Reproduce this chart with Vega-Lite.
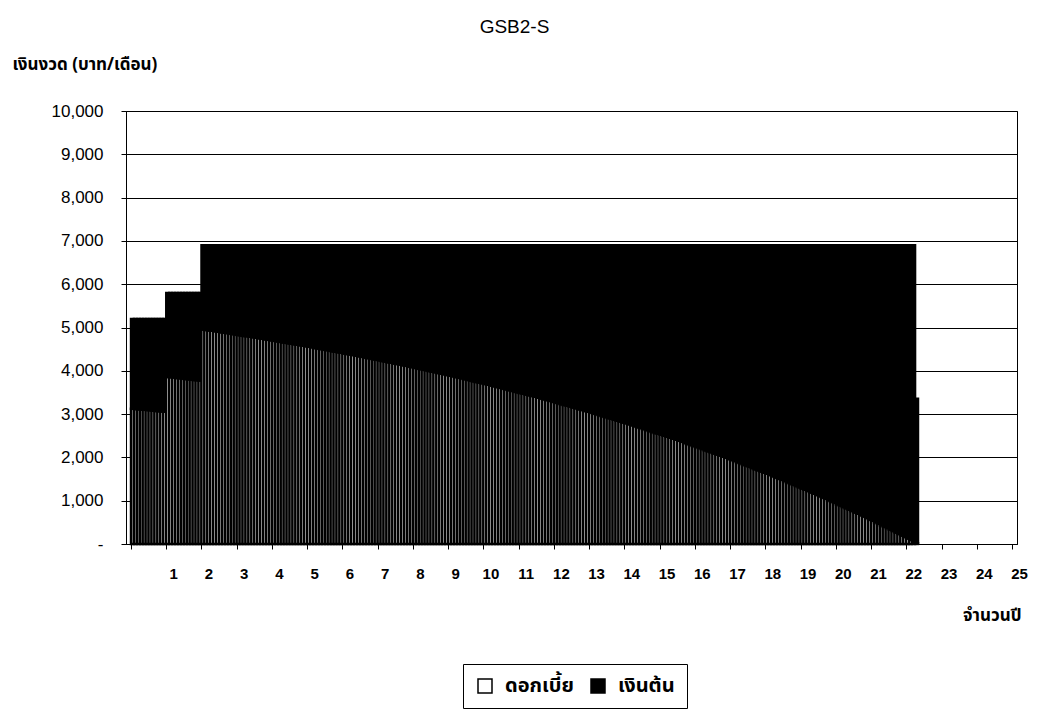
{
  "$schema": "https://vega.github.io/schema/vega-lite/v6.json",
  "autosize": "none",
  "padding": {"left": 126, "top": 111, "right": 27, "bottom": 166},
  "width": 891,
  "height": 433,
  "background": "white",
  "view": {"stroke": "black", "strokeWidth": 1},
  "title": {
    "text": "GSB2-S",
    "anchor": "middle",
    "frame": "group",
    "dx": -57,
    "dy": 23,
    "offset": 26,
    "baseline": "alphabetic",
    "font": "Liberation Sans",
    "fontSize": 19,
    "fontWeight": "normal",
    "color": "black"
  },
  "config": {
    "axis": {
      "labelColor": "black",
      "tickColor": "black",
      "domainColor": "black",
      "gridColor": "black",
      "titleColor": "black"
    },
    "legend": {"labelColor": "black"}
  },
  "data": {
    "values": [
      {"m":1,"i":3125,"p":2075},{"m":2,"i":3118,"p":2082},{"m":3,"i":3112,"p":2088},{"m":4,"i":3105,"p":2095},
      {"m":5,"i":3099,"p":2101},{"m":6,"i":3092,"p":2108},{"m":7,"i":3086,"p":2114},{"m":8,"i":3079,"p":2121},
      {"m":9,"i":3072,"p":2128},{"m":10,"i":3066,"p":2134},{"m":11,"i":3059,"p":2141},{"m":12,"i":3052,"p":2148},
      {"m":13,"i":3858,"p":1942},{"m":14,"i":3850,"p":1950},{"m":15,"i":3843,"p":1957},{"m":16,"i":3835,"p":1965},
      {"m":17,"i":3827,"p":1973},{"m":18,"i":3819,"p":1981},{"m":19,"i":3811,"p":1989},{"m":20,"i":3804,"p":1996},
      {"m":21,"i":3796,"p":2004},{"m":22,"i":3788,"p":2012},{"m":23,"i":3780,"p":2020},{"m":24,"i":3772,"p":2028},
      {"m":25,"i":4952,"p":1948},{"m":26,"i":4942,"p":1958},{"m":27,"i":4932,"p":1968},{"m":28,"i":4922,"p":1978},
      {"m":29,"i":4911,"p":1989},{"m":30,"i":4901,"p":1999},{"m":31,"i":4891,"p":2009},{"m":32,"i":4880,"p":2020},
      {"m":33,"i":4870,"p":2030},{"m":34,"i":4859,"p":2041},{"m":35,"i":4848,"p":2052},{"m":36,"i":4838,"p":2062},
      {"m":37,"i":4827,"p":2073},{"m":38,"i":4816,"p":2084},{"m":39,"i":4805,"p":2095},{"m":40,"i":4794,"p":2106},
      {"m":41,"i":4784,"p":2116},{"m":42,"i":4772,"p":2128},{"m":43,"i":4761,"p":2139},{"m":44,"i":4750,"p":2150},
      {"m":45,"i":4739,"p":2161},{"m":46,"i":4728,"p":2172},{"m":47,"i":4717,"p":2183},{"m":48,"i":4705,"p":2195},
      {"m":49,"i":4694,"p":2206},{"m":50,"i":4682,"p":2218},{"m":51,"i":4671,"p":2229},{"m":52,"i":4659,"p":2241},
      {"m":53,"i":4647,"p":2253},{"m":54,"i":4636,"p":2264},{"m":55,"i":4624,"p":2276},{"m":56,"i":4612,"p":2288},
      {"m":57,"i":4600,"p":2300},{"m":58,"i":4588,"p":2312},{"m":59,"i":4576,"p":2324},{"m":60,"i":4564,"p":2336},
      {"m":61,"i":4552,"p":2348},{"m":62,"i":4540,"p":2360},{"m":63,"i":4527,"p":2373},{"m":64,"i":4515,"p":2385},
      {"m":65,"i":4503,"p":2397},{"m":66,"i":4490,"p":2410},{"m":67,"i":4478,"p":2422},{"m":68,"i":4465,"p":2435},
      {"m":69,"i":4452,"p":2448},{"m":70,"i":4439,"p":2461},{"m":71,"i":4427,"p":2473},{"m":72,"i":4414,"p":2486},
      {"m":73,"i":4401,"p":2499},{"m":74,"i":4388,"p":2512},{"m":75,"i":4375,"p":2525},{"m":76,"i":4362,"p":2538},
      {"m":77,"i":4348,"p":2552},{"m":78,"i":4335,"p":2565},{"m":79,"i":4322,"p":2578},{"m":80,"i":4308,"p":2592},
      {"m":81,"i":4295,"p":2605},{"m":82,"i":4281,"p":2619},{"m":83,"i":4268,"p":2632},{"m":84,"i":4254,"p":2646},
      {"m":85,"i":4240,"p":2660},{"m":86,"i":4226,"p":2674},{"m":87,"i":4212,"p":2688},{"m":88,"i":4198,"p":2702},
      {"m":89,"i":4184,"p":2716},{"m":90,"i":4170,"p":2730},{"m":91,"i":4156,"p":2744},{"m":92,"i":4142,"p":2758},
      {"m":93,"i":4127,"p":2773},{"m":94,"i":4113,"p":2787},{"m":95,"i":4098,"p":2802},{"m":96,"i":4084,"p":2816},
      {"m":97,"i":4069,"p":2831},{"m":98,"i":4054,"p":2846},{"m":99,"i":4039,"p":2861},{"m":100,"i":4024,"p":2876},
      {"m":101,"i":4010,"p":2890},{"m":102,"i":3994,"p":2906},{"m":103,"i":3979,"p":2921},{"m":104,"i":3964,"p":2936},
      {"m":105,"i":3949,"p":2951},{"m":106,"i":3933,"p":2967},{"m":107,"i":3918,"p":2982},{"m":108,"i":3902,"p":2998},
      {"m":109,"i":3887,"p":3013},{"m":110,"i":3871,"p":3029},{"m":111,"i":3855,"p":3045},{"m":112,"i":3840,"p":3060},
      {"m":113,"i":3824,"p":3076},{"m":114,"i":3808,"p":3092},{"m":115,"i":3791,"p":3109},{"m":116,"i":3775,"p":3125},
      {"m":117,"i":3759,"p":3141},{"m":118,"i":3743,"p":3157},{"m":119,"i":3726,"p":3174},{"m":120,"i":3710,"p":3190},
      {"m":121,"i":3693,"p":3207},{"m":122,"i":3676,"p":3224},{"m":123,"i":3660,"p":3240},{"m":124,"i":3643,"p":3257},
      {"m":125,"i":3626,"p":3274},{"m":126,"i":3609,"p":3291},{"m":127,"i":3592,"p":3308},{"m":128,"i":3574,"p":3326},
      {"m":129,"i":3557,"p":3343},{"m":130,"i":3540,"p":3360},{"m":131,"i":3522,"p":3378},{"m":132,"i":3504,"p":3396},
      {"m":133,"i":3487,"p":3413},{"m":134,"i":3469,"p":3431},{"m":135,"i":3451,"p":3449},{"m":136,"i":3433,"p":3467},
      {"m":137,"i":3415,"p":3485},{"m":138,"i":3397,"p":3503},{"m":139,"i":3379,"p":3521},{"m":140,"i":3360,"p":3540},
      {"m":141,"i":3342,"p":3558},{"m":142,"i":3323,"p":3577},{"m":143,"i":3305,"p":3595},{"m":144,"i":3286,"p":3614},
      {"m":145,"i":3267,"p":3633},{"m":146,"i":3248,"p":3652},{"m":147,"i":3229,"p":3671},{"m":148,"i":3210,"p":3690},
      {"m":149,"i":3191,"p":3709},{"m":150,"i":3172,"p":3728},{"m":151,"i":3152,"p":3748},{"m":152,"i":3133,"p":3767},
      {"m":153,"i":3113,"p":3787},{"m":154,"i":3093,"p":3807},{"m":155,"i":3073,"p":3827},{"m":156,"i":3054,"p":3846},
      {"m":157,"i":3033,"p":3867},{"m":158,"i":3013,"p":3887},{"m":159,"i":2993,"p":3907},{"m":160,"i":2973,"p":3927},
      {"m":161,"i":2952,"p":3948},{"m":162,"i":2932,"p":3968},{"m":163,"i":2911,"p":3989},{"m":164,"i":2890,"p":4010},
      {"m":165,"i":2869,"p":4031},{"m":166,"i":2848,"p":4052},{"m":167,"i":2827,"p":4073},{"m":168,"i":2806,"p":4094},
      {"m":169,"i":2785,"p":4115},{"m":170,"i":2763,"p":4137},{"m":171,"i":2742,"p":4158},{"m":172,"i":2720,"p":4180},
      {"m":173,"i":2698,"p":4202},{"m":174,"i":2676,"p":4224},{"m":175,"i":2654,"p":4246},{"m":176,"i":2632,"p":4268},
      {"m":177,"i":2610,"p":4290},{"m":178,"i":2588,"p":4312},{"m":179,"i":2565,"p":4335},{"m":180,"i":2543,"p":4357},
      {"m":181,"i":2520,"p":4380},{"m":182,"i":2497,"p":4403},{"m":183,"i":2474,"p":4426},{"m":184,"i":2451,"p":4449},
      {"m":185,"i":2428,"p":4472},{"m":186,"i":2405,"p":4495},{"m":187,"i":2381,"p":4519},{"m":188,"i":2358,"p":4542},
      {"m":189,"i":2334,"p":4566},{"m":190,"i":2310,"p":4590},{"m":191,"i":2287,"p":4613},{"m":192,"i":2262,"p":4638},
      {"m":193,"i":2238,"p":4662},{"m":194,"i":2214,"p":4686},{"m":195,"i":2190,"p":4710},{"m":196,"i":2165,"p":4735},
      {"m":197,"i":2140,"p":4760},{"m":198,"i":2116,"p":4784},{"m":199,"i":2091,"p":4809},{"m":200,"i":2066,"p":4834},
      {"m":201,"i":2041,"p":4859},{"m":202,"i":2015,"p":4885},{"m":203,"i":1990,"p":4910},{"m":204,"i":1964,"p":4936},
      {"m":205,"i":1938,"p":4962},{"m":206,"i":1913,"p":4987},{"m":207,"i":1887,"p":5013},{"m":208,"i":1861,"p":5039},
      {"m":209,"i":1834,"p":5066},{"m":210,"i":1808,"p":5092},{"m":211,"i":1781,"p":5119},{"m":212,"i":1755,"p":5145},
      {"m":213,"i":1728,"p":5172},{"m":214,"i":1701,"p":5199},{"m":215,"i":1674,"p":5226},{"m":216,"i":1647,"p":5253},
      {"m":217,"i":1619,"p":5281},{"m":218,"i":1592,"p":5308},{"m":219,"i":1564,"p":5336},{"m":220,"i":1536,"p":5364},
      {"m":221,"i":1508,"p":5392},{"m":222,"i":1480,"p":5420},{"m":223,"i":1452,"p":5448},{"m":224,"i":1424,"p":5476},
      {"m":225,"i":1395,"p":5505},{"m":226,"i":1367,"p":5533},{"m":227,"i":1338,"p":5562},{"m":228,"i":1309,"p":5591},
      {"m":229,"i":1280,"p":5620},{"m":230,"i":1250,"p":5650},{"m":231,"i":1221,"p":5679},{"m":232,"i":1191,"p":5709},
      {"m":233,"i":1162,"p":5738},{"m":234,"i":1132,"p":5768},{"m":235,"i":1102,"p":5798},{"m":236,"i":1072,"p":5828},
      {"m":237,"i":1041,"p":5859},{"m":238,"i":1011,"p":5889},{"m":239,"i":980,"p":5920},{"m":240,"i":949,"p":5951},
      {"m":241,"i":918,"p":5982},{"m":242,"i":887,"p":6013},{"m":243,"i":856,"p":6044},{"m":244,"i":824,"p":6076},
      {"m":245,"i":793,"p":6107},{"m":246,"i":761,"p":6139},{"m":247,"i":729,"p":6171},{"m":248,"i":697,"p":6203},
      {"m":249,"i":664,"p":6236},{"m":250,"i":632,"p":6268},{"m":251,"i":599,"p":6301},{"m":252,"i":566,"p":6334},
      {"m":253,"i":533,"p":6367},{"m":254,"i":500,"p":6400},{"m":255,"i":467,"p":6433},{"m":256,"i":433,"p":6467},
      {"m":257,"i":400,"p":6500},{"m":258,"i":366,"p":6534},{"m":259,"i":332,"p":6568},{"m":260,"i":298,"p":6602},
      {"m":261,"i":263,"p":6637},{"m":262,"i":229,"p":6671},{"m":263,"i":194,"p":6706},{"m":264,"i":159,"p":6741},
      {"m":265,"i":124,"p":6776},{"m":266,"i":89,"p":6811},{"m":267,"i":53,"p":6847},{"m":268,"i":17,"p":3341}
    ]
  },
  "transform": [{"fold": ["i", "p"], "as": ["s", "v"]}],
  "mark": {"type": "bar", "width": 2.97, "stroke": "black", "strokeWidth": 2.4},
  "encoding": {
    "x": {
      "field": "m",
      "type": "quantitative",
      "scale": {"domain": [0.5, 300.5], "nice": false, "zero": false},
      "axis": {
        "title": "จำนวนปี",
        "values": [0.5, 12.5, 24.5, 36.5, 48.5, 60.5, 72.5, 84.5, 96.5, 108.5, 120.5, 132.5, 144.5, 156.5, 168.5, 180.5, 192.5, 204.5, 216.5, 228.5, 240.5, 252.5, 264.5, 276.5, 288.5, 300.5],
        "labelExpr": "datum.value < 1 ? '' : '' + round(datum.value / 12)",
        "grid": false,
        "tickSize": 5,
        "labelOffset": 7,
        "labelBaseline": "middle",
        "labelPadding": 24,
        "labelFont": "Liberation Sans",
        "labelFontSize": 15,
        "labelFontWeight": "bold",
        "labelFlush": false,
        "labelOverlap": false,
        "titleFont": "Noto Sans Thai, Tahoma, sans-serif",
        "titleFontSize": 17,
        "titleFontWeight": "bold",
        "titleAlign": "right",
        "titleAnchor": null,
        "titleX": 895,
        "titleY": 71,
        "titleBaseline": "middle"
      }
    },
    "y": {
      "field": "v",
      "type": "quantitative",
      "stack": "zero",
      "scale": {"domain": [0, 10000], "nice": false},
      "axis": {
        "title": "เงินงวด (บาท/เดือน)",
        "values": [0, 1000, 2000, 3000, 4000, 5000, 6000, 7000, 8000, 9000, 10000],
        "labelExpr": "datum.value == 0 ? '-\u00a0\u00a0\u00a0\u00a0' : format(datum.value, ',')",
        "grid": true,
        "gridColor": "black",
        "gridWidth": 1,
        "tickSize": 5,
        "labelPadding": 18,
        "labelFont": "Liberation Sans",
        "labelFontSize": 17,
        "labelFontWeight": "normal",
        "titleFont": "Noto Sans Thai, Tahoma, sans-serif",
        "titleFontSize": 17,
        "titleFontWeight": "bold",
        "titleAngle": 0,
        "titleAlign": "left",
        "titleAnchor": null,
        "titleX": -114,
        "titleY": -47,
        "titleBaseline": "middle"
      }
    },
    "order": {"field": "s", "type": "nominal", "sort": "ascending"},
    "color": {
      "field": "s",
      "type": "nominal",
      "scale": {"domain": ["i", "p"], "range": ["white", "black"]},
      "legend": {
        "title": null,
        "orient": "none",
        "direction": "horizontal",
        "legendX": 337,
        "legendY": 553,
        "labelExpr": "datum.value == 'i' ? 'ดอกเบี้ย' : 'เงินต้น'",
        "labelFont": "Noto Sans Thai, Tahoma, sans-serif",
        "labelFontSize": 20,
        "labelFontWeight": "bold",
        "symbolType": "square",
        "symbolSize": 196,
        "symbolStrokeColor": "black",
        "symbolStrokeWidth": 1.5,
        "labelOffset": 10,
        "columnPadding": 14,
        "padding": 12,
        "strokeColor": "black",
        "fillColor": "white"
      }
    }
  }
}
